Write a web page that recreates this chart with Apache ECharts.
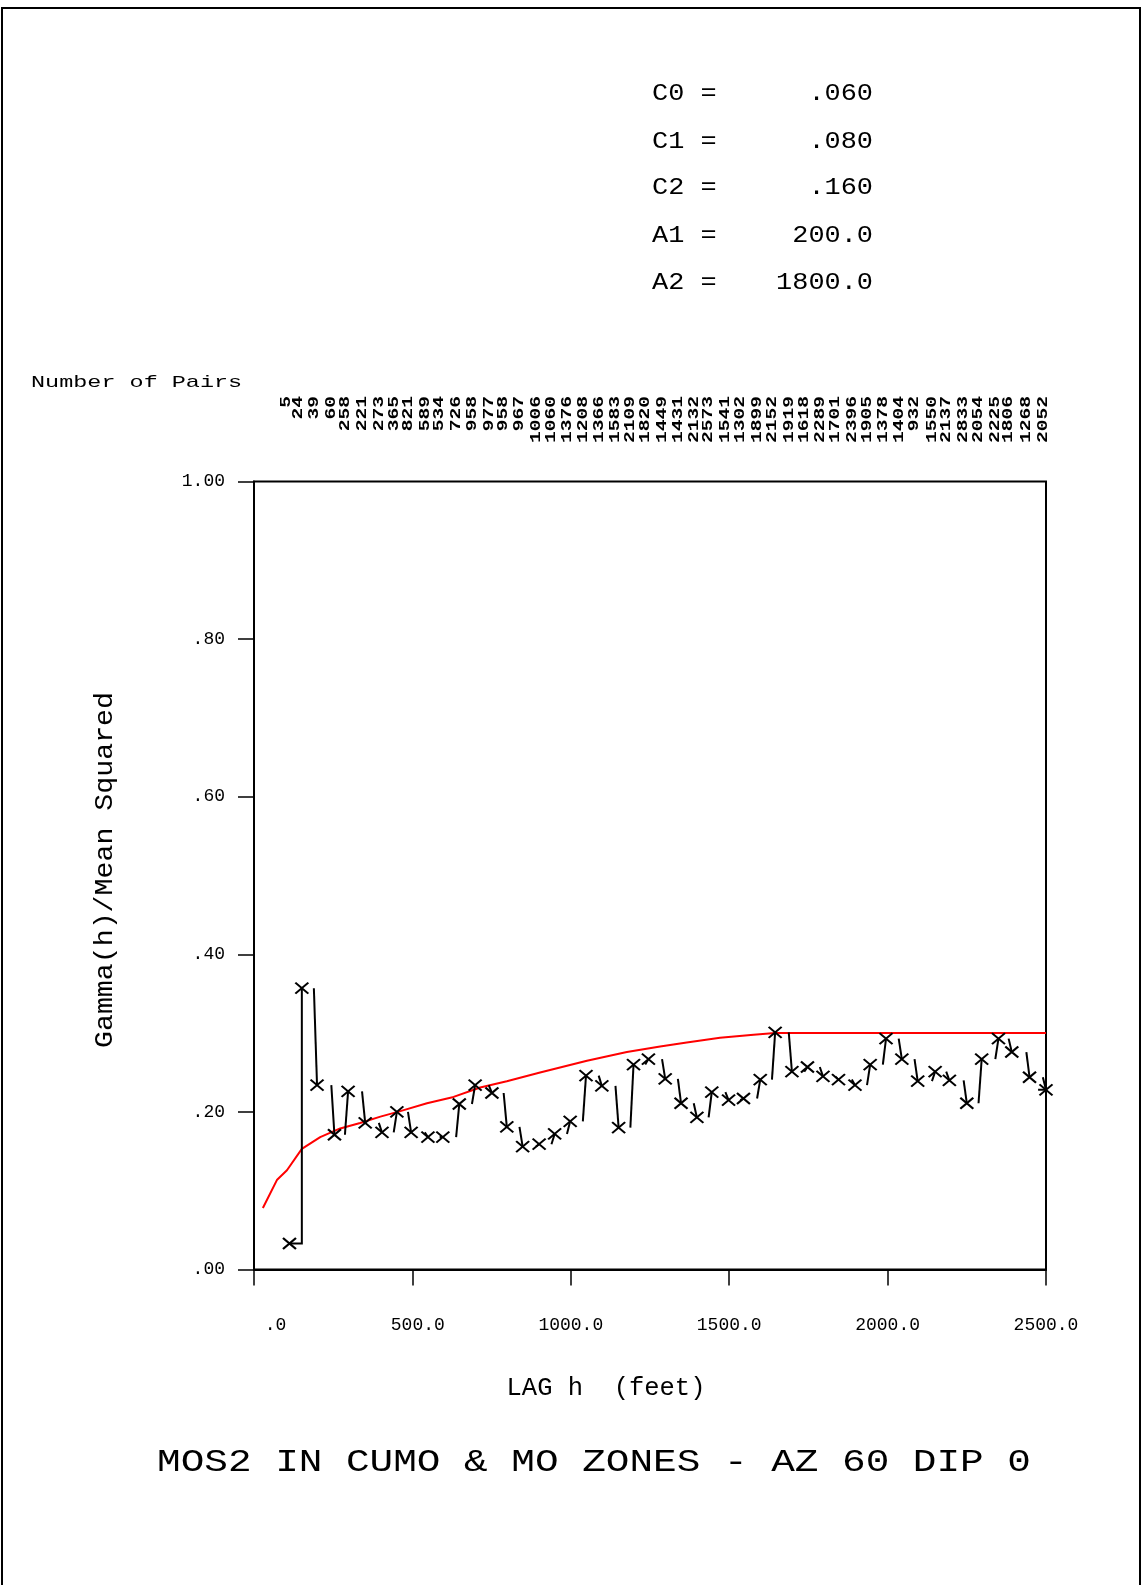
<!DOCTYPE html>
<html>
<head>
<meta charset="utf-8">
<script src="https://cdn.jsdelivr.net/npm/echarts@6/dist/echarts.min.js"></script>
<style>
html,body{margin:0;padding:0;background:#fff;}
#c{width:1143px;height:1585px;}
</style>
</head>
<body>
<div id="c"></div>
<script>
// ---- data ----
var lagFeet = [112,151,199,254,297,351,404,451,496,549,596,648,698,751,798,848,900,949,998,1048,
  1098,1151,1198,1245,1298,1348,1398,1445,1498,1545,1598,1645,1698,1747,1796,1845,1897,1945,1995,2045,
  2095,2150,2195,2250,2297,2350,2392,2448,2500];
var gammaRatio = [0.033,0.357,0.234,0.171,0.226,0.186,0.174,0.200,0.174,0.168,
  0.168,0.210,0.234,0.224,0.181,0.156,0.159,0.172,0.188,0.246,
  0.233,0.180,0.260,0.267,0.242,0.211,0.193,0.225,0.215,0.217,
  0.241,0.301,0.251,0.257,0.245,0.241,0.234,0.260,0.293,0.267,
  0.239,0.251,0.240,0.211,0.267,0.293,0.276,0.244,0.228];
var pairCounts = [5,24,39,60,258,221,273,365,821,589,534,726,958,977,958,967,1006,1060,1376,1208,
  1366,1583,2109,1820,1449,1431,2132,2573,1541,1302,1899,2152,1919,1618,2289,1701,2396,1905,1378,1404,
  932,1550,2137,2833,2054,2225,1806,1268,2052];
var modelLag = [28,73,104,151,209,272,335,399,462,546,630,714,798,903,1051,1177,1282,1366,1471,1577,1645,1733,2500];
var modelGamma = [0.078,0.114,0.126,0.153,0.168,0.179,0.186,0.194,0.201,0.211,0.219,0.231,0.239,0.250,0.265,0.276,0.283,0.288,0.294,0.298,0.300,0.300,0.300];
var paramNames = ['C0 =','C1 =','C2 =','A1 =','A2 ='];
var paramValues = ['.060','.080','.160','200.0','1800.0'];
var xTickLabels = ['    .0',' 500.0','1000.0','1500.0','2000.0','2500.0'];
var yTickLabels = ['.00','.20','.40','.60','.80','1.00'];
var chartTitle = 'MOS2 IN CUMO & MO ZONES - AZ 60 DIP 0';
var xAxisTitle = 'LAG h  (feet)';
var yAxisTitle = 'Gamma(h)/Mean Squared';
var pairsTitle = 'Number of Pairs';

// ---- build ----
var FONT = '"Liberation Mono","DejaVu Sans Mono",monospace';
var points = lagFeet.map(function(x,i){return [x, gammaRatio[i]];});
var modelPts = modelLag.map(function(x,i){return [x, modelGamma[i]];});
var tailOff = 10;
var segs = [];
for (var i = 1; i < lagFeet.length; i++) {
  if (i === 1) {
    segs.push({coords:[[lagFeet[0],gammaRatio[0]],[lagFeet[1],gammaRatio[0]],[lagFeet[1],gammaRatio[1]]]});
  } else {
    segs.push({coords:[[lagFeet[i]-tailOff,gammaRatio[i-1]],[lagFeet[i],gammaRatio[i]]]});
  }
}
var n = lagFeet.length;
segs.push({coords:[[lagFeet[n-1]-25,gammaRatio[n-1]],[lagFeet[n-1]+35,gammaRatio[n-1]]]});

var chart = echarts.init(document.getElementById('c'), null, {renderer:'canvas'});
var option = {
  animation:false,
  backgroundColor:'#fff',
  grid:{left:254, top:481.5, right:97, bottom:315.5, show:true, borderColor:'#000', borderWidth:2, backgroundColor:'transparent'},
  xAxis:{type:'value', min:0, max:2500, interval:500,
    axisLine:{show:true, lineStyle:{color:'#000', width:2}},
    axisTick:{show:true, length:16, inside:false, lineStyle:{color:'#000', width:1.5}},
    splitLine:{show:false},
    axisLabel:{margin:47, color:'#000', fontFamily:FONT, fontSize:18, verticalAlign:'top',
      formatter:function(v){return xTickLabels[Math.round(v/500)];}}
  },
  yAxis:{type:'value', min:0, max:1, interval:0.2,
    axisLine:{show:true, lineStyle:{color:'#000', width:2}},
    axisTick:{show:true, length:16, inside:false, lineStyle:{color:'#000', width:1.5}},
    splitLine:{show:false},
    axisLabel:{margin:29, color:'#000', fontFamily:FONT, fontSize:18,
      formatter:function(v){return yTickLabels[Math.round(v/0.2)];}}
  },
  series:[
    {type:'line', data:modelPts, symbol:'none', lineStyle:{color:'#ff0000', width:2}, z:2},
    {type:'lines', coordinateSystem:'cartesian2d', polyline:true, data:segs,
      lineStyle:{color:'#000', width:2, opacity:1}, z:3},
    {type:'scatter', data:points, symbol:'path://M0,0L10,10M10,0L0,10', symbolSize:[13,11],
      itemStyle:{color:'transparent', borderColor:'#000', borderWidth:2, opacity:1}, z:4}
  ]
};
chart.setOption(option);

function txt(o){
  return {type:'text', x:o.x, y:o.y, rotation:o.rot||0, scaleX:o.sx||1, scaleY:o.sy||1, silent:true,
    style:{text:o.t, fill:'#000', font:(o.fw||'normal')+' '+(o.fs)+'px '+FONT, textAlign:o.al||'left', textVerticalAlign:'middle', align:o.al||'left', verticalAlign:'middle'}};
}
var g = [];
// page frame
g.push({type:'rect', shape:{x:2,y:8,width:1138,height:1600}, style:{fill:'none', stroke:'#000', lineWidth:2}, silent:true});
// parameter block
var rowsY = [94,141.5,188,235.5,283];
for (var k = 0; k < paramNames.length; k++) {
  g.push(txt({t:paramNames[k], x:652, y:rowsY[k], fs:23, sx:1.17}));
  g.push(txt({t:paramValues[k], x:873, y:rowsY[k], fs:23, sx:1.17, al:'right'}));
}
g.push(txt({t:pairsTitle, x:31, y:382, fs:17, sx:1.38}));
g.push(txt({t:yAxisTitle, x:105, y:870, fs:25, sx:1.13, rot:Math.PI/2, al:'center'}));
g.push(txt({t:xAxisTitle, x:606, y:1388, fs:25, sx:1.02, al:'center'}));
g.push(txt({t:chartTitle, x:594, y:1463, fs:32, sx:1.23, al:'center'}));
// pair counts above each lag
for (var j = 0; j < lagFeet.length; j++) {
  var p = chart.convertToPixel({gridIndex:0}, [lagFeet[j], 1]);
  g.push(txt({t:String(pairCounts[j]), x:p[0]-3, y:396, fs:14.5, sx:1.35, rot:Math.PI/2, al:'right', fw:'bold'}));
}
chart.setOption({graphic:g});
</script>
</body>
</html>
